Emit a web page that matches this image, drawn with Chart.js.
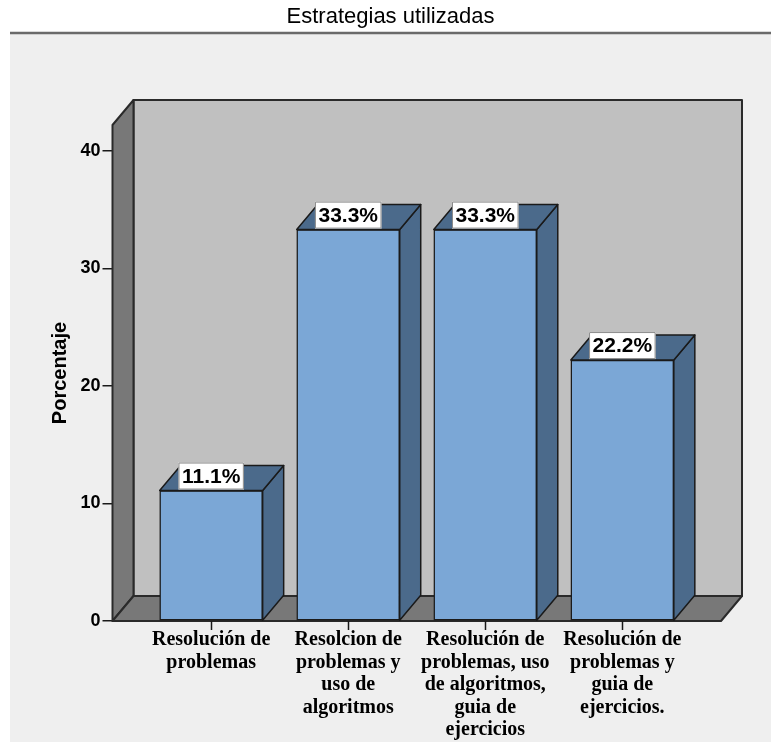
<!DOCTYPE html>
<html>
<head>
<meta charset="utf-8">
<script src="https://cdn.jsdelivr.net/npm/chart.js@4/dist/chart.umd.min.js"></script>
<style>
  html, body { margin: 0; padding: 0; background: #ffffff; }
  #wrap { width: 771px; height: 742px; }
</style>
</head>
<body>
<div id="wrap"><canvas id="c" width="771" height="742"></canvas></div>
<script>
// Chart text
const chartTitle = 'Estrategias utilizadas';
const yTitle = 'Porcentaje';

// Categories (already wrapped into lines)
const categories = [
  ['Resolución de', 'problemas'],
  ['Resolcion de', 'problemas y', 'uso de', 'algoritmos'],
  ['Resolución de', 'problemas, uso', 'de algoritmos,', 'guia de', 'ejercicios'],
  ['Resolución de', 'problemas y', 'guia de', 'ejercicios.']
];

// Percentage per category
const percentages = [11.1, 33.3, 33.3, 22.2];

// Y axis tick values
const yTicks = [0, 10, 20, 30, 40];

// 3D depth offset of the box and the bars
const DX = 21, DY = -25;

const COLORS = {
  page: '#ffffff',
  panel: '#efefef',
  rule: '#6a6a6a',
  backWall: '#c0c0c0',
  sideWall: '#787878',
  edge: '#2a2a2a',
  barFront: '#7ba7d6',
  barShade: '#4b6a8b'
};

const box3d = {
  id: 'box3d',
  beforeDraw(chart) {
    const { ctx, width, height } = chart;
    ctx.save();
    ctx.fillStyle = COLORS.page;
    ctx.fillRect(0, 0, width, height);
    ctx.fillStyle = COLORS.panel;
    ctx.fillRect(10, 34, width - 10, height - 34);
    ctx.strokeStyle = COLORS.rule;
    ctx.lineWidth = 2.5;
    ctx.beginPath();
    ctx.moveTo(10, 33);
    ctx.lineTo(width, 33);
    ctx.stroke();
    ctx.fillStyle = '#000';
    ctx.font = '22px "Liberation Sans", Arial, sans-serif';
    ctx.textAlign = 'center';
    ctx.textBaseline = 'middle';
    ctx.fillText(chartTitle, (10 + width) / 2, 17);
    ctx.restore();
  },
  beforeDatasetsDraw(chart) {
    const { ctx, chartArea: a } = chart;
    ctx.save();
    ctx.lineJoin = 'round';
    ctx.strokeStyle = COLORS.edge;
    ctx.lineWidth = 2;
    // back wall
    ctx.fillStyle = COLORS.backWall;
    ctx.beginPath();
    ctx.rect(a.left + DX, a.top + DY, a.right - a.left, a.bottom - a.top);
    ctx.fill();
    ctx.stroke();
    // left wall
    ctx.fillStyle = COLORS.sideWall;
    ctx.beginPath();
    ctx.moveTo(a.left, a.top);
    ctx.lineTo(a.left + DX, a.top + DY);
    ctx.lineTo(a.left + DX, a.bottom + DY);
    ctx.lineTo(a.left, a.bottom);
    ctx.closePath();
    ctx.fill();
    ctx.stroke();
    // floor
    ctx.beginPath();
    ctx.moveTo(a.left, a.bottom);
    ctx.lineTo(a.left + DX, a.bottom + DY);
    ctx.lineTo(a.right + DX, a.bottom + DY);
    ctx.lineTo(a.right, a.bottom);
    ctx.closePath();
    ctx.fill();
    ctx.stroke();
    ctx.restore();
  },
  afterDatasetsDraw(chart) {
    const { ctx } = chart;
    const meta = chart.getDatasetMeta(0);
    ctx.save();
    ctx.lineJoin = 'round';
    meta.data.forEach((bar, i) => {
      const { x, y, base, width } = bar.getProps(['x', 'y', 'base', 'width'], true);
      const l = x - width / 2, r = x + width / 2;
      ctx.fillStyle = COLORS.barShade;
      ctx.strokeStyle = '#1a1a1a';
      ctx.lineWidth = 1.5;
      // side face
      ctx.beginPath();
      ctx.moveTo(r, y);
      ctx.lineTo(r + DX, y + DY);
      ctx.lineTo(r + DX, base + DY);
      ctx.lineTo(r, base);
      ctx.closePath();
      ctx.fill();
      ctx.stroke();
      // top face
      ctx.beginPath();
      ctx.moveTo(l, y);
      ctx.lineTo(l + DX, y + DY);
      ctx.lineTo(r + DX, y + DY);
      ctx.lineTo(r, y);
      ctx.closePath();
      ctx.fill();
      ctx.stroke();
      // value label
      const txt = percentages[i].toFixed(1) + '%';
      ctx.font = 'bold 21px "Liberation Sans", Arial, sans-serif';
      const tw = ctx.measureText(txt).width;
      const bw = tw + 7, bh = 27;
      const bx = x - bw / 2, by = y - 1 - bh;
      ctx.fillStyle = '#ffffff';
      ctx.fillRect(bx, by, bw, bh);
      ctx.strokeStyle = '#8a8a8a';
      ctx.lineWidth = 1;
      ctx.strokeRect(bx + 0.5, by + 0.5, bw - 1, bh - 1);
      ctx.fillStyle = '#000';
      ctx.textAlign = 'center';
      ctx.textBaseline = 'middle';
      ctx.fillText(txt, x, by + bh / 2 + 1);
    });
    ctx.restore();
  },
  afterDraw(chart) {
    // short category tick marks under the front floor edge
    const { ctx, chartArea: a } = chart;
    const xs = chart.scales.x;
    ctx.save();
    ctx.strokeStyle = '#1a1a1a';
    ctx.lineWidth = 1.5;
    xs.ticks.forEach(t => {
      const px = Math.round(xs.getPixelForValue(t.value)) + 0.5;
      ctx.beginPath();
      ctx.moveTo(px, a.bottom);
      ctx.lineTo(px, a.bottom + 9);
      ctx.stroke();
    });
    ctx.restore();
  }
};

new Chart(document.getElementById('c'), {
  type: 'bar',
  data: {
    datasets: [{
      data: percentages.map((v, i) => ({ x: i, y: v })),
      backgroundColor: COLORS.barFront,
      borderColor: '#1a1a1a',
      borderWidth: 1.5,
      borderSkipped: false,
      barThickness: 103
    }]
  },
  plugins: [box3d],
  options: {
    responsive: false,
    animation: false,
    devicePixelRatio: 1,
    layout: { padding: { top: 125, left: 10, right: 50, bottom: 0 } },
    plugins: {
      legend: { display: false },
      title: { display: false },
      tooltip: { enabled: false }
    },
    scales: {
      x: {
        type: 'linear',
        offset: false,
        min: -0.72,
        max: 3.72,
        afterBuildTicks(scale) { scale.ticks = categories.map((c, i) => ({ value: i })); },
        afterFit(scale) { scale.height = 121; },
        border: { display: false },
        grid: { display: true, offset: false, drawOnChartArea: false, drawTicks: true, tickLength: 10, color: 'rgba(0,0,0,0)', tickColor: 'rgba(0,0,0,0)' },
        ticks: {
          autoSkip: false,
          maxRotation: 0,
          padding: -2,
          color: '#000',
          font: { family: '"Liberation Serif", "Times New Roman", serif', size: 20, weight: 'bold', lineHeight: 1.12 },
          callback: (v) => categories[v]
        }
      },
      y: {
        min: 0,
        max: 42.2,
        afterBuildTicks(scale) { scale.ticks = yTicks.map(v => ({ value: v })); },
        afterFit(scale) { scale.width = 102.5; },
        border: { display: false },
        grid: { drawOnChartArea: false, drawTicks: true, tickLength: 10, color: '#1a1a1a', lineWidth: 1.5 },
        ticks: {
          padding: 2,
          color: '#000',
          font: { family: '"Liberation Sans", Arial, sans-serif', size: 18, weight: 'bold' }
        },
        title: {
          display: true,
          text: yTitle,
          color: '#000',
          font: { family: '"Liberation Sans", Arial, sans-serif', size: 20, weight: 'bold' },
          padding: { top: 38, bottom: 0 }
        }
      }
    }
  }
});
</script>
</body>
</html>
